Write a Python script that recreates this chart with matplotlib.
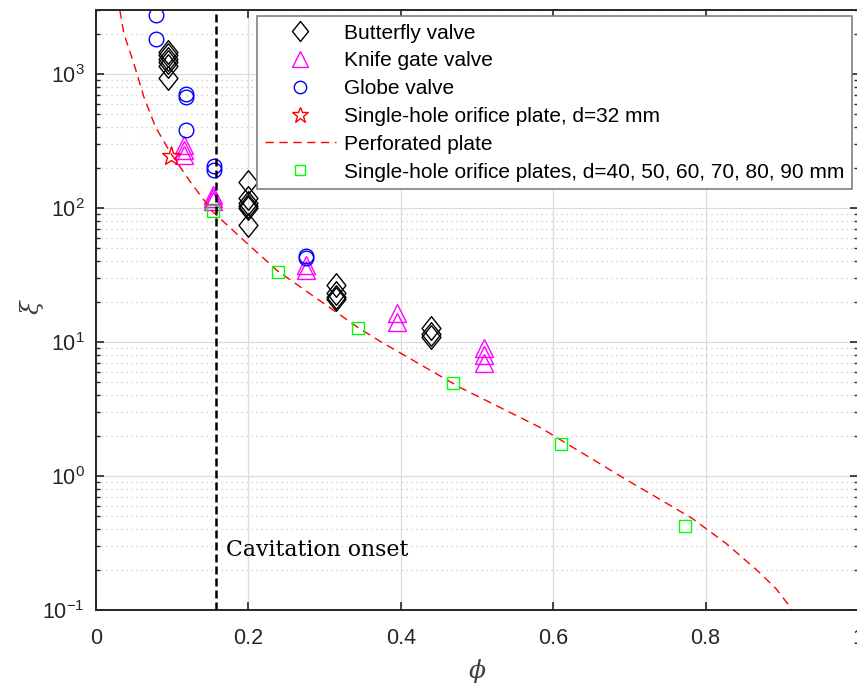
import matplotlib
matplotlib.use('Agg')
import matplotlib.pyplot as plt
from matplotlib.path import Path
from matplotlib.ticker import LogLocator, NullFormatter, FixedLocator

plt.rcParams['font.family'] = ['Liberation Sans', 'DejaVu Sans']
plt.rcParams['mathtext.fontset'] = 'dejavuserif'

# measured loss coefficient xi vs. open area ratio phi
bf_phi = [0.095, 0.095, 0.095, 0.095, 0.095, 0.095,
          0.2, 0.2, 0.2, 0.2, 0.2, 0.2,
          0.315, 0.315, 0.315, 0.315,
          0.44, 0.44, 0.44]
bf_xi = [1450, 1380, 1300, 1220, 1150, 930,
         156, 118, 109, 104, 100, 74.5,
         26.6, 23.3, 21.7, 20.8,
         12.8, 11.5, 10.9]

kg_phi = [0.115, 0.115, 0.115, 0.154, 0.154, 0.154,
          0.275, 0.275, 0.395, 0.395, 0.509, 0.509, 0.509]
kg_xi = [294, 270, 250, 125, 118, 112,
         37.6, 34.5, 16.5, 14.0, 9.05, 8.0, 7.0]

gl_phi = [0.079, 0.079, 0.118, 0.118, 0.118, 0.155, 0.155, 0.275, 0.275]
gl_xi = [2770, 1811, 703, 675, 380, 205, 192, 44, 42]

star_phi = [0.098]
star_xi = [243]

pp_phi = [0.0313, 0.0366, 0.0497, 0.0628, 0.078, 0.0978, 0.124, 0.153,
          0.198, 0.238, 0.344, 0.373, 0.478, 0.583, 0.609, 0.697,
          0.740, 0.783, 0.828, 0.871, 0.893, 0.910, 0.915]
pp_xi = [2980, 2000, 1195, 674, 403, 257, 156, 94,
         54.6, 34, 12.8, 10.1, 4.57, 2.30, 1.87, 0.93,
         0.67, 0.48, 0.31, 0.19, 0.143, 0.107, 0.095]

sq_phi = [0.153, 0.239, 0.344, 0.468, 0.61, 0.773]
sq_xi = [95, 33.4, 12.8, 4.97, 1.74, 0.42]

phi_onset = 0.158

diamond = Path([(0, 1), (0.8, 0), (0, -1), (-0.8, 0), (0, 1)],
               [Path.MOVETO, Path.LINETO, Path.LINETO, Path.LINETO, Path.CLOSEPOLY])

fig = plt.figure(figsize=(8.57, 6.88), dpi=100)
ax = fig.add_axes([96/857, 78/688, 762/857, 600/688])

ax.plot(bf_phi, bf_xi, ls='none', marker=diamond, ms=17, mfc='none', mec='k', mew=1,
        label='Butterfly valve')
ax.plot(kg_phi, kg_xi, ls='none', marker='^', ms=13, mfc='none', mec='#ff00ff', mew=1,
        label='Knife gate valve')
ax.plot(gl_phi, gl_xi, ls='none', marker='o', ms=10.5, mfc='none', mec='#0000ff', mew=1,
        label='Globe valve')
ax.plot(star_phi, star_xi, ls='none', marker='*', ms=14, mfc='none', mec='r', mew=1,
        label='Single-hole orifice plate, d=32 mm')
ax.plot(pp_phi, pp_xi, color='r', lw=1, ls=(0, (6, 4)), label='Perforated plate')
ax.plot(sq_phi, sq_xi, ls='none', marker='s', ms=9, mfc='none', mec='#00ff00', mew=1,
        label='Single-hole orifice plates, d=40, 50, 60, 70, 80, 90 mm')

ax.axvline(phi_onset, color='k', lw=1.8, ls=(0, (3.2, 1.6)))
ax.text(0.1706, 0.252, 'Cavitation onset', family='DejaVu Serif', fontsize=15.8,
        va='baseline', ha='left')

ax.set_yscale('log')
ax.set_xlim(0, 1)
ax.set_ylim(0.1, 3000)
ax.xaxis.set_major_locator(FixedLocator([0, 0.2, 0.4, 0.6, 0.8, 1.0]))
ax.set_xticklabels(['0', '0.2', '0.4', '0.6', '0.8', '1'])
ax.yaxis.set_major_locator(LogLocator(base=10, numticks=10))
ax.yaxis.set_minor_locator(LogLocator(base=10, subs=range(2, 10), numticks=20))
ax.yaxis.set_minor_formatter(NullFormatter())

ax.grid(True, which='major', color='#dcdcdc', lw=0.9)
ax.grid(True, which='minor', axis='y', color='#c8c8c8', lw=0.9, ls=(0, (1, 3)))
ax.set_axisbelow(True)

ax.tick_params(which='both', direction='in', top=True, right=True,
               labelsize=15.5, colors='#262626')
ax.tick_params(which='major', length=6, width=1.2)
ax.tick_params(axis='x', which='major', pad=13)
ax.tick_params(axis='y', which='major', pad=8)
ax.tick_params(which='minor', length=3, width=1.0)
for s in ax.spines.values():
    s.set_color('#262626')
    s.set_linewidth(1.4)

ax.set_xlabel(r'$\phi$', fontsize=18, color='#404040')
ax.set_ylabel(r'$\xi$', fontsize=18, color='#404040')
ax.xaxis.set_label_coords(477/762 - 96/762, -0.078)
ax.yaxis.set_label_coords(-0.065, 0.505)

leg = ax.legend(loc='upper right', fontsize=15, handlelength=3.4, handletextpad=0.4,
                labelspacing=0.42, borderaxespad=0.3, borderpad=0.36, markerscale=0.85,
                fancybox=False, framealpha=1, edgecolor='#808080')
leg.get_frame().set_linewidth(1.2)

fig.savefig('out.png', dpi=100)
